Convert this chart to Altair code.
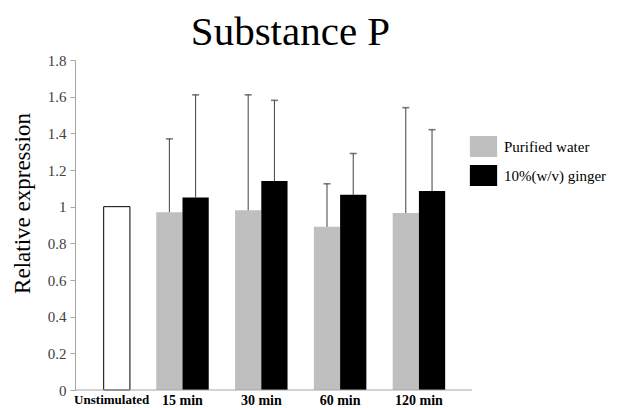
import altair as alt
import pandas as pd

categories = ["Unstimulated", "15 min", "30 min", "60 min", "120 min"]
series = ["Purified water", "10%(w/v) ginger"]
unstimulated_value = 1.0
water_values = [0.97, 0.98, 0.89, 0.965]
water_err = [0.40, 0.63, 0.235, 0.575]
ginger_values = [1.05, 1.14, 1.065, 1.085]
ginger_err = [0.56, 0.44, 0.225, 0.335]
y_ticks = [0, 0.2, 0.4, 0.6, 0.8, 1.0, 1.2, 1.4, 1.6, 1.8]

rows = [{"cat": "Unstimulated", "series": "Unstimulated", "slot": "b",
         "value": unstimulated_value, "err": None}]
for i, c in enumerate(categories[1:]):
    rows.append({"cat": c, "series": series[0], "slot": "a",
                 "value": water_values[i], "err": water_err[i]})
    rows.append({"cat": c, "series": series[1], "slot": "b",
                 "value": ginger_values[i], "err": ginger_err[i]})
df = pd.DataFrame(rows)
df["upper"] = df["value"] + df["err"]

FONT = "Liberation Serif"

xscale = alt.Scale(domain=categories, paddingInner=0.334, paddingOuter=0.031,
                   range=[0, 372.6])
xoff = alt.XOffset("slot:N", scale=alt.Scale(domain=["a", "b"], paddingInner=0, paddingOuter=0))
yscale = alt.Scale(domain=[0, 1.8], nice=False)

x_axis = alt.Axis(domain=False, ticks=False, labelAngle=0,
                  labelFont=FONT, labelFontWeight="bold",
                  labelColor="#000000",
                  labelFontSize=alt.condition("datum.value == 'Unstimulated'", alt.value(13), alt.value(14)),
                  labelOffset=alt.condition("datum.value == 'Unstimulated'", alt.value(8), alt.value(0)),
                  labelPadding=3)
y_axis = alt.Axis(values=y_ticks, format="~g", grid=False,
                  labelOverlap=False, tickCount=10,
                  domainColor="#a6a6a6", tickColor="#a6a6a6",
                  tickSize=5, labelPadding=4,
                  labelFont=FONT, labelFontSize=15, labelColor="#404040",
                  titleFont=FONT, titleFontSize=23, titleFontWeight="normal",
                  titleColor="#000000", titleY=143, titleX=-53,
                  titleBaseline="middle")

x_enc = alt.X("cat:N", scale=xscale, sort=categories, title=None, axis=x_axis)

bars = alt.Chart(df).mark_bar(strokeWidth=1).encode(
    x=x_enc,
    xOffset=xoff,
    y=alt.Y("value:Q", scale=yscale, title="Relative expression", axis=y_axis),
    color=alt.Color("series:N",
                    scale=alt.Scale(domain=series + ["Unstimulated"],
                                    range=["#bfbfbf", "#000000", "#ffffff"]),
                    legend=alt.Legend(values=series, title=None, orient="none",
                                      legendX=398, legendY=76, padding=0,
                                      symbolType="M-1.3,-1L1.3,-1L1.3,1L-1.3,1Z",
                                      symbolSize=440, symbolStrokeWidth=0,
                                      symbolOpacity=1,
                                      labelFont=FONT, labelFontSize=15,
                                      labelColor="#000000", labelOffset=10,
                                      labelLimit=200, rowPadding=8)),
    stroke=alt.condition("datum.series == 'Unstimulated'", alt.value("#000000"), alt.value(None)),
)

err_df = df[df["err"].notna()]
rules = alt.Chart(err_df).mark_rule(color="#404040", strokeWidth=1).encode(
    x=x_enc,
    xOffset=xoff,
    y=alt.Y("value:Q", scale=yscale, title="Relative expression", axis=y_axis),
    y2="upper:Q",
)
caps = alt.Chart(err_df).mark_tick(color="#404040", thickness=1.6, size=7).encode(
    x=x_enc,
    xOffset=xoff,
    y=alt.Y("upper:Q", scale=yscale, title="Relative expression", axis=y_axis),
)
baseline = alt.Chart(pd.DataFrame({"y": [0]})).mark_rule(color="#a6a6a6", strokeWidth=1).encode(
    y=alt.Y("y:Q", scale=yscale, title="Relative expression", axis=y_axis)
)

chart = alt.layer(bars, rules, caps, baseline).properties(
    width=397, height=330,
    title=alt.TitleParams("Substance P", font=FONT, fontSize=41, fontWeight="normal",
                          color="#000000", anchor="middle", dx=17, dy=7, offset=6),
    autosize=alt.AutoSizeParams(type="none"),
    padding={"left": 67, "top": 52, "right": 140, "bottom": 20},
).configure_view(stroke=None)

chart.save("out.html", embed_options={"renderer": "svg", "actions": False})
